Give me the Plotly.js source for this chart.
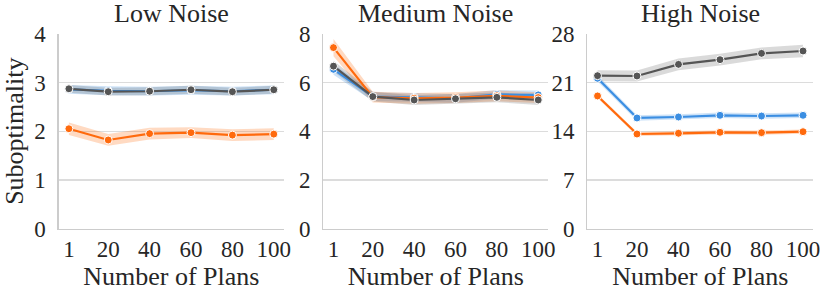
<!DOCTYPE html>
<html>
<head>
<meta charset="utf-8">
<script src="https://cdn.plot.ly/plotly-3.0.1.min.js"></script>
<style>
html,body{margin:0;padding:0;background:#fff;}
#chart{width:831px;height:297px;}
#chart text{font-family:"Liberation Serif" !important;}
</style>
</head>
<body>
<div id="chart"></div>
<script>
// ---- data ----
const numPlans = [1, 20, 40, 60, 80, 100];
const panelTitles = ["Low Noise", "Medium Noise", "High Noise"];
const xTickLabels = ["1", "20", "40", "60", "80", "100"];

// Low noise
const lowBlue = [2.86, 2.83, 2.82, 2.84, 2.82, 2.85];
const lowBlueCI = [0.09, 0.09, 0.09, 0.09, 0.09, 0.09];
const lowOrange = [2.05, 1.82, 1.95, 1.97, 1.92, 1.94];
const lowOrangeCI = [0.13, 0.12, 0.12, 0.11, 0.12, 0.12];
const lowGray = [2.87, 2.81, 2.82, 2.85, 2.81, 2.85];
const lowGrayCI = [0.08, 0.08, 0.08, 0.08, 0.08, 0.08];

// Medium noise
const medBlue = [6.54, 5.42, 5.39, 5.35, 5.51, 5.49];
const medBlueCI = [0.22, 0.18, 0.18, 0.18, 0.18, 0.18];
const medOrange = [7.43, 5.40, 5.35, 5.38, 5.45, 5.38];
const medOrangeCI = [0.35, 0.22, 0.22, 0.22, 0.22, 0.22];
const medGray = [6.67, 5.42, 5.28, 5.33, 5.39, 5.28];
const medGrayCI = [0.22, 0.2, 0.2, 0.2, 0.2, 0.2];

// High noise
const highBlue = [21.6, 15.9, 16.04, 16.28, 16.18, 16.28];
const highBlueCI = [0.45, 0.4, 0.4, 0.4, 0.4, 0.4];
const highOrange = [19.06, 13.6, 13.7, 13.84, 13.79, 13.93];
const highOrangeCI = [0.3, 0.3, 0.3, 0.3, 0.3, 0.3];
const highGray = [21.97, 21.93, 23.6, 24.27, 25.18, 25.52];
const highGrayCI = [0.8, 0.8, 0.85, 0.85, 0.85, 0.9];

// ---- styles ----
const colors = {blue: "#3b8ee2", orange: "#ff6a0d", gray: "#555555"};
const bandColors = {blue: "rgba(59,142,226,0.25)", orange: "rgba(255,106,13,0.25)", gray: "rgba(85,85,85,0.22)"};
const FONT = "Liberation Serif";
const TXT = "#262626";

const panels = [
  {series: [["blue", lowBlue, lowBlueCI], ["orange", lowOrange, lowOrangeCI], ["gray", lowGray, lowGrayCI]], yr: [0, 4], dt: 1},
  {series: [["blue", medBlue, medBlueCI], ["orange", medOrange, medOrangeCI], ["gray", medGray, medGrayCI]], yr: [0, 8], dt: 2},
  {series: [["blue", highBlue, highBlueCI], ["orange", highOrange, highOrangeCI], ["gray", highGray, highGrayCI]], yr: [0, 28], dt: 7}
];

const xDomains = [[0.0706, 0.3418], [0.389, 0.660], [0.7067, 0.9787]];
const yDomain = [0.23, 0.8865];

const traces = [];
const layout = {
  width: 831, height: 297,
  margin: {l: 0, r: 0, t: 0, b: 0},
  paper_bgcolor: "#ffffff", plot_bgcolor: "#ffffff",
  showlegend: false,
  font: {family: FONT, color: TXT, size: 22},
  annotations: []
};

panels.forEach((p, i) => {
  const sfx = i === 0 ? "" : String(i + 1);
  const xa = "x" + sfx, ya = "y" + sfx;
  p.series.forEach(([name, vals, ci]) => {
    const upper = vals.map((v, k) => v + ci[k]);
    const lower = vals.map((v, k) => v - ci[k]);
    traces.push({
      x: numPlans.concat(numPlans.slice().reverse()),
      y: upper.concat(lower.slice().reverse()),
      xaxis: xa, yaxis: ya, type: "scatter", mode: "lines",
      fill: "toself", fillcolor: bandColors[name],
      line: {width: 0, color: bandColors[name]}, hoverinfo: "skip"
    });
  });
  p.series.forEach(([name, vals]) => {
    traces.push({
      x: numPlans, y: vals, xaxis: xa, yaxis: ya,
      type: "scatter", mode: "lines+markers",
      line: {color: colors[name], width: 2.2},
      marker: {color: colors[name], size: 8, line: {color: "#ffffff", width: 1}}
    });
  });
  layout["xaxis" + sfx] = {
    domain: xDomains[i], anchor: ya,
    range: [-3.95, 104.95],
    tickmode: "array", tickvals: numPlans, ticktext: xTickLabels,
    showgrid: false, zeroline: false,
    showline: true, linecolor: "#cccccc", linewidth: 1.2,
    ticks: "", tickfont: {family: FONT, size: 23, color: TXT},
    title: {text: "Number of Plans", font: {family: FONT, size: 26, color: TXT}, standoff: 3}
  };
  layout["yaxis" + sfx] = {
    domain: yDomain, anchor: xa,
    range: p.yr, dtick: p.dt, tick0: 0,
    showgrid: true, gridcolor: "#dcdcdc", gridwidth: 1.2,
    zeroline: false, showline: true, linecolor: "#cccccc", linewidth: 1.2,
    ticks: "", ticklabelstandoff: 7,
    tickfont: {family: FONT, size: 23, color: TXT},
    title: i === 0 ? {text: "Suboptimality", font: {family: FONT, size: 26, color: TXT}, standoff: 9} : {text: ""}
  };
  layout.annotations.push({
    text: panelTitles[i], xref: "paper", yref: "paper",
    x: (xDomains[i][0] + xDomains[i][1]) / 2, y: yDomain[1] + 0.012,
    xanchor: "center", yanchor: "bottom", showarrow: false,
    font: {family: FONT, size: 26, color: TXT}
  });
});

Plotly.newPlot("chart", traces, layout, {staticPlot: true, displayModeBar: false});
</script>
</body>
</html>
